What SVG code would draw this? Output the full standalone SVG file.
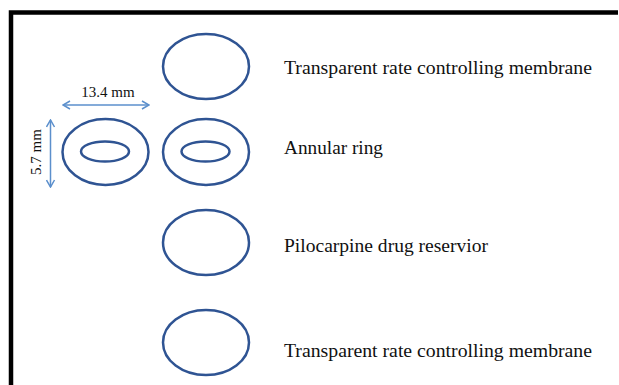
<svg xmlns="http://www.w3.org/2000/svg" width="619" height="385" viewBox="0 0 619 385">
<defs>
<style>
.ring{fill:none;stroke:#2F5493;stroke-width:2.5}
.dim{fill:none;stroke:#5B8FCC;stroke-width:1.5}
.lbl{font-family:"Liberation Serif","Times New Roman",serif;font-size:19px;fill:#111111}
.dl{font-family:"Liberation Serif","Times New Roman",serif;font-size:15px;fill:#111111}
</style>
<marker id="ah" viewBox="0 0 10 10" refX="9" refY="5" markerWidth="10" markerHeight="10" orient="auto-start-reverse" markerUnits="userSpaceOnUse">
<path d="M2,1 L9,5 L2,9" fill="none" stroke="#5B8FCC" stroke-width="1.5"/>
</marker>
</defs>
<rect width="619" height="385" fill="#ffffff"/>
<path d="M11,385 V12.5 H618" fill="none" stroke="#000" stroke-width="4.5"/>
<g id="membrane-top">
<ellipse class="ring" cx="206" cy="66.5" rx="43" ry="32.5"/>
<text class="lbl" x="284" y="73.5" textLength="308" lengthAdjust="spacingAndGlyphs">Transparent rate controlling membrane</text>
</g>
<g id="annular-ring">
<ellipse class="ring" cx="206" cy="152" rx="43" ry="33"/>
<ellipse class="ring" cx="205.5" cy="151.5" rx="24" ry="10"/>
<text class="lbl" x="284" y="153.5" textLength="99" lengthAdjust="spacingAndGlyphs">Annular ring</text>
</g>
<g id="annular-ring-dimensioned">
<ellipse class="ring" cx="105.5" cy="152" rx="43" ry="33"/>
<ellipse class="ring" cx="105" cy="151.5" rx="24" ry="10"/>
</g>
<g id="reservoir">
<ellipse class="ring" cx="206" cy="242.5" rx="43" ry="32.5"/>
<text class="lbl" x="284" y="251.5" textLength="204" lengthAdjust="spacingAndGlyphs">Pilocarpine drug reservior</text>
</g>
<g id="membrane-bottom">
<ellipse class="ring" cx="206" cy="342.5" rx="43" ry="32.5"/>
<text class="lbl" x="284" y="357" textLength="308" lengthAdjust="spacingAndGlyphs">Transparent rate controlling membrane</text>
</g>
<g id="connectors">
<line class="dim" x1="63" y1="105" x2="149" y2="105" marker-start="url(#ah)" marker-end="url(#ah)"/>
<line class="dim" x1="50.5" y1="120" x2="50.5" y2="187" marker-start="url(#ah)" marker-end="url(#ah)"/>
</g>
<text class="dl" x="108" y="97" text-anchor="middle">13.4 mm</text>
<text class="dl" x="0" y="0" text-anchor="middle" transform="translate(41,152) rotate(-90)">5.7 mm</text>
</svg>
